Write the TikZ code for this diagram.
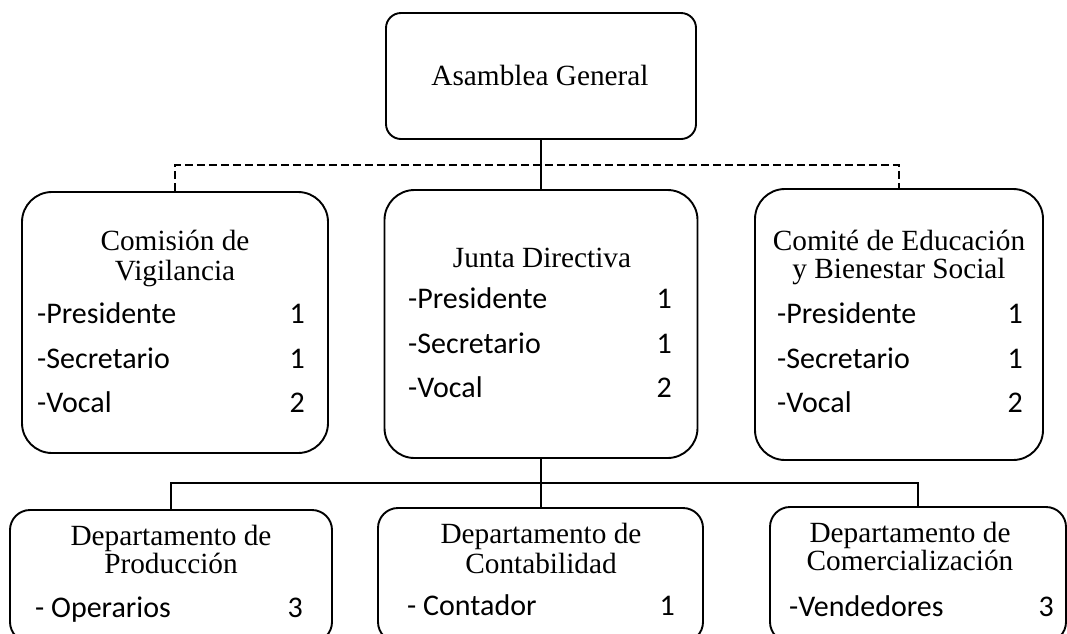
\documentclass[tikz,border=0pt]{standalone}
\usepackage{fontspec}
\setmainfont{Liberation Serif}
\newfontfamily\calfont{Carlito}
\begin{document}
\begin{tikzpicture}[x=1pt,y=-1pt,
  box/.style={draw, line width=1.9pt, inner sep=0pt},
  ttl/.style={inner sep=0pt, anchor=base, font=\fontsize{29.3}{29}\selectfont},
  itm/.style={inner sep=0pt, anchor=base west, font=\calfont\fontsize{30}{30}\selectfont},
  num/.style={inner sep=0pt, anchor=base east, font=\calfont\fontsize{30}{30}\selectfont},
  conn/.style={line width=1.9pt},
  dconn/.style={line width=1.9pt, dash pattern=on 8pt off 4pt}]
\useasboundingbox (0,0) rectangle (1067,633);
\fill[white] (0,0) rectangle (1067,633);

% boxes
\node[box, rounded corners=15pt, minimum width=310pt, minimum height=126pt] (ag) at (541,76) {};
\node[box, rounded corners=30pt, minimum width=306pt, minimum height=261pt] (vig) at (175,322.5) {};
\node[box, rounded corners=30pt, minimum width=313pt, minimum height=268pt] (junta) at (541,324) {};
\node[box, rounded corners=30pt, minimum width=288pt, minimum height=271pt] (comite) at (899,324.5) {};
\node[box, rounded corners=20pt, minimum width=322pt, minimum height=132pt] (prod) at (171,576) {};
\node[box, rounded corners=20pt, minimum width=325pt, minimum height=134pt] (cont) at (540.5,575) {};
\node[box, rounded corners=20pt, minimum width=296pt, minimum height=135pt] (comer) at (918,574.5) {};

% texts
\node[ttl] (agt) at (540,85) {Asamblea General};

\node[ttl] (vigt1) at (175,250) {Comisión de};
\node[ttl] (vigt2) at (175,280) {Vigilancia};
\node[itm] (vigi1) at (37,323) {-Presidente};
\node[num] (vign1) at (305,323) {1};
\node[itm] (vigi2) at (37,368) {-Secretario};
\node[num] (vign2) at (305,368) {1};
\node[itm] (vigi3) at (37,412) {-Vocal};
\node[num] (vign3) at (305,412) {2};

\node[ttl] (jt1) at (542,267) {Junta Directiva};
\node[itm] (ji1) at (408,308) {-Presidente};
\node[num] (jn1) at (672,308) {1};
\node[itm] (ji2) at (408,353) {-Secretario};
\node[num] (jn2) at (672,353) {1};
\node[itm] (ji3) at (408,397) {-Vocal};
\node[num] (jn3) at (672,397) {2};

\node[ttl] (ct1) at (899,250) {Comité de Educación};
\node[ttl] (ct2) at (899,278) {y Bienestar Social};
\node[itm] (ci1) at (777,323) {-Presidente};
\node[num] (cn1) at (1023,323) {1};
\node[itm] (ci2) at (777,368) {-Secretario};
\node[num] (cn2) at (1023,368) {1};
\node[itm] (ci3) at (777,412) {-Vocal};
\node[num] (cn3) at (1023,412) {2};

\node[ttl] (pt1) at (171,545) {Departamento de};
\node[ttl] (pt2) at (171,573) {Producción};
\node[itm] (pi1) at (35,617) {- Operarios};
\node[num] (pn1) at (303,617) {3};

\node[ttl] (kt1) at (541,543) {Departamento de};
\node[ttl] (kt2) at (541,573) {Contabilidad};
\node[itm] (ki1) at (407,615) {- Contador};
\node[num] (kn1) at (675,615) {1};

\node[ttl] (mt1) at (910,542) {Departamento de};
\node[ttl] (mt2) at (910,570) {Comercialización};
\node[itm] (mi1) at (789,616) {-Vendedores};
\node[num] (mn1) at (1054,616) {3};

% connectors
\coordinate (dl) at (0,165);
\coordinate (bl) at (0,483);
\draw[conn] (ag.south) -- (ag.south |- junta.north);
\draw[dconn] (vig.north) -- (vig.north |- dl) -- (comite.north |- dl) -- (comite.north);
\draw[conn] (junta.south) -- (junta.south |- cont.north);
\draw[conn] (prod.north) -- (prod.north |- bl) -- (comer.north |- bl) -- (comer.north);
\end{tikzpicture}
\end{document}
